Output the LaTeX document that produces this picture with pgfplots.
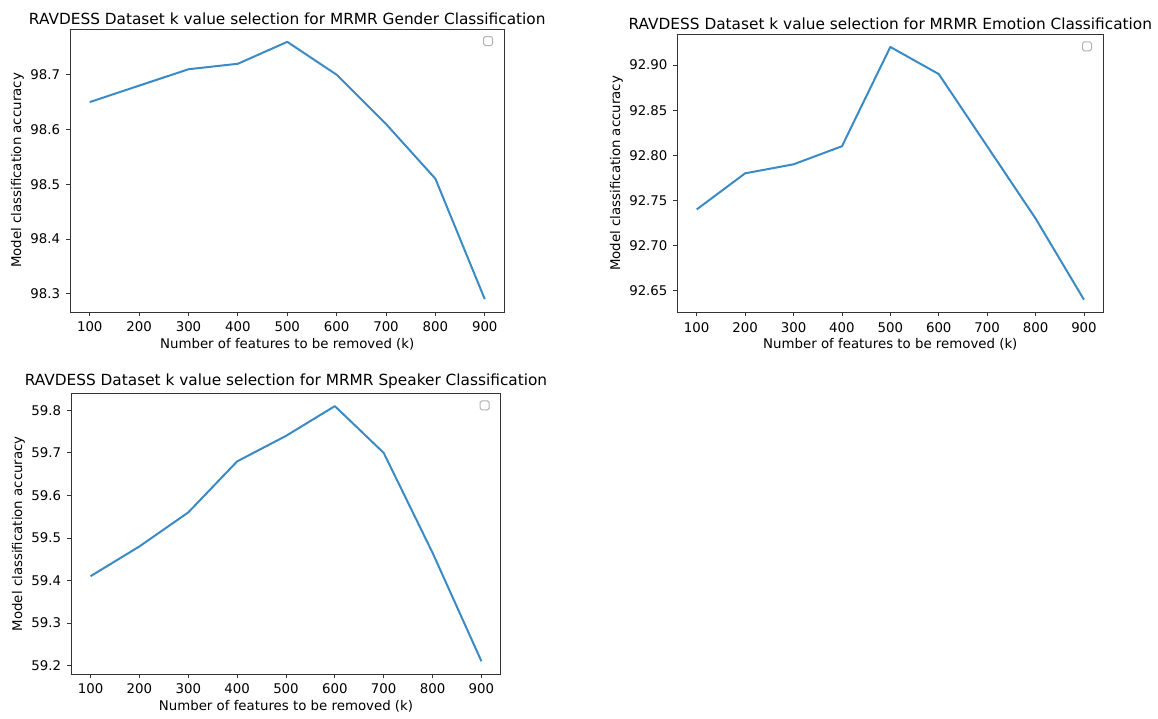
\documentclass[border=0pt]{standalone}
\usepackage{fontspec}
\setmainfont{DejaVu Sans}
\usepackage{pgfplots}
\pgfplotsset{compat=1.18}
\definecolor{mplblue}{HTML}{3A8AC4}
\pgfplotsset{
  myax/.style={
    scale only axis,
    xmin=60, xmax=940,
    xtick={100,200,...,900},
    axis line style={black!80, line width=0.6pt},
    tick style={black!80, line width=0.5pt},
    major tick length=2.4pt,
    tick align=outside,
    xtick pos=bottom, ytick pos=left,
    tick label style={font=\fontsize{8}{9}\selectfont},
    /pgf/number format/assume math mode=true,
    title style={font=\fontsize{9.2}{10}\selectfont, yshift=-7pt},
    label style={font=\fontsize{8}{9}\selectfont},
    xlabel={Number of features to be removed (k)},
    ylabel={Model classification accuracy},
    xlabel style={yshift=3pt},
    ylabel style={yshift=-3pt},
    xticklabel style={/pgf/number format/set thousands separator={}},
    extra description/.code={
      \draw[black!30, line width=0.6pt, rounded corners=1pt]
        ([xshift=-12.5pt, yshift=-4.5pt]rel axis cs:1,1) rectangle ++(5.4pt,-5.4pt);
    },
  },
  myline/.style={mplblue, line width=1.2pt, no marks, line join=round},
}
\begin{document}
\begin{tikzpicture}
\path[use as bounding box] (0pt,0pt) rectangle (694.8pt,-430.8pt);

\begin{axis}[myax, at={(42pt,-187.2pt)}, anchor=south west,
  width=260.7pt, height=169.8pt,
  ymin=98.2665, ymax=98.7835,
  ytick={98.3,98.4,98.5,98.6,98.7},
  yticklabel style={/pgf/number format/.cd, fixed, fixed zerofill, precision=1},
  title={RAVDESS Dataset k value selection for MRMR Gender Classification}]
\addplot[myline] coordinates {(100,98.65) (200,98.68) (300,98.71) (400,98.72) (500,98.76) (600,98.70) (700,98.61) (800,98.51) (900,98.29)};
\end{axis}

\begin{axis}[myax, at={(406.4pt,-187.4pt)}, anchor=south west,
  width=255.6pt, height=166.8pt,
  ymin=92.626, ymax=92.934,
  ytick={92.65,92.70,92.75,92.80,92.85,92.90},
  yticklabel style={/pgf/number format/.cd, fixed, fixed zerofill, precision=2},
  title={RAVDESS Dataset k value selection for MRMR Emotion Classification}]
\addplot[myline] coordinates {(100,92.74) (200,92.78) (300,92.79) (400,92.81) (500,92.92) (600,92.89) (700,92.81) (800,92.73) (900,92.64)};
\end{axis}

\begin{axis}[myax, at={(42.6pt,-404.4pt)}, anchor=south west,
  width=258pt, height=168.4pt,
  ymin=59.18, ymax=59.84,
  ytick={59.2,59.3,59.4,59.5,59.6,59.7,59.8},
  yticklabel style={/pgf/number format/.cd, fixed, fixed zerofill, precision=1},
  title={RAVDESS Dataset k value selection for MRMR Speaker Classification}]
\addplot[myline] coordinates {(100,59.41) (200,59.48) (300,59.56) (400,59.68) (500,59.74) (600,59.81) (700,59.70) (800,59.465) (900,59.21)};
\end{axis}
\end{tikzpicture}
\end{document}
